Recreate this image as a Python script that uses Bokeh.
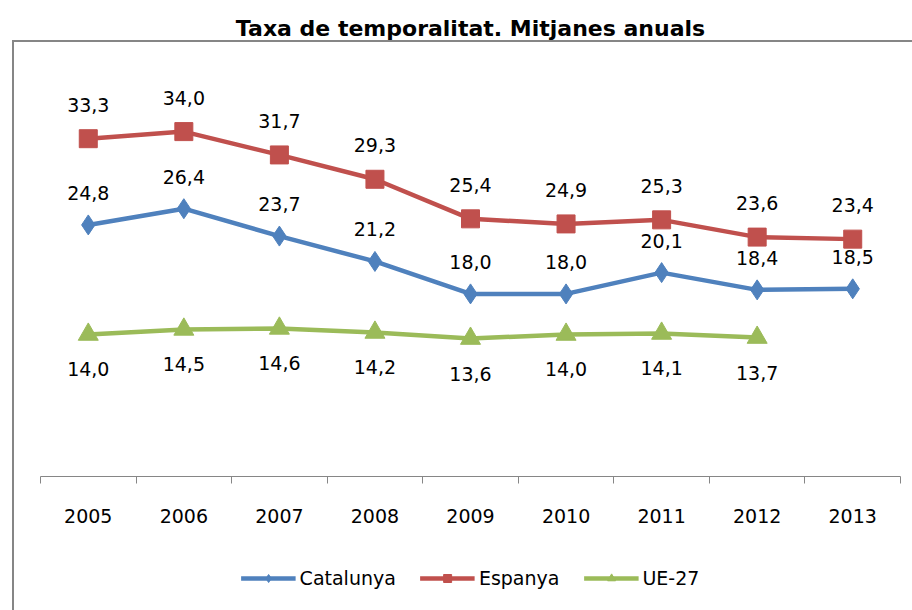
from bokeh.plotting import figure
from bokeh.models import (Range1d, FixedTicker, ColumnDataSource, Legend, LegendItem,
                          LabelSet, InlineStyleSheet)
from bokeh.layouts import column
from bokeh.core.properties import value
from bokeh.embed import file_html
from bokeh.resources import INLINE

years = ["2005", "2006", "2007", "2008", "2009", "2010", "2011", "2012", "2013"]
catalunya = [24.8, 26.4, 23.7, 21.2, 18.0, 18.0, 20.1, 18.4, 18.5]
espanya = [33.3, 34.0, 31.7, 29.3, 25.4, 24.9, 25.3, 23.6, 23.4]
ue27 = [14.0, 14.5, 14.6, 14.2, 13.6, 14.0, 14.1, 13.7]
series_names = ["Catalunya", "Espanya", "UE-27"]

FONT = "DejaVu Sans"
BLUE, RED, GREEN = "#4F81BD", "#C0504D", "#9BBB59"
GRAY = "#868686"

def fmt(v):
    return f"{v:.1f}".replace(".", ",")

def src(vals):
    return ColumnDataSource(dict(x=list(range(len(vals))), y=vals, lab=[fmt(v) for v in vals]))

sources = [src(catalunya), src(espanya), src(ue27)]

p = figure(width=912, height=540, output_backend="svg", toolbar_location=None,
           x_range=Range1d(-0.5, len(years) - 0.5), y_range=Range1d(0, 41.6),
           min_border_left=40, min_border_right=12, min_border_top=54, min_border_bottom=64,
           title="Taxa de temporalitat. Mitjanes anuals")
p.title.text_font = FONT
p.title.text_font_size = "22px"
p.title.text_font_style = "bold"
p.title.align = "center"
p.title.text_color = "#000000"
p.title.standoff = 27

p.outline_line_color = None
p.grid.visible = False
p.yaxis.visible = False

ax = p.xaxis[0]
ax.ticker = FixedTicker(ticks=list(range(len(years))),
                        minor_ticks=[i - 0.5 for i in range(len(years) + 1)])
ax.major_label_overrides = {i: y for i, y in enumerate(years)}
ax.major_tick_line_color = None
ax.major_tick_out = 0
ax.major_tick_in = 0
ax.minor_tick_out = 7
ax.minor_tick_in = 0
ax.minor_tick_line_color = GRAY
ax.axis_line_color = GRAY
ax.axis_line_width = 1
ax.major_label_standoff = 25
ax.major_label_text_font = FONT
ax.major_label_text_font_size = "19px"
ax.major_label_text_color = "#000000"

styles = [dict(color=BLUE, marker="diamond", size=20),
          dict(color=RED, marker="square", size=18),
          dict(color=GREEN, marker="triangle", size=20)]

for s, st in zip(sources, styles):
    p.line("x", "y", source=s, color=st["color"], line_width=4.5)
    p.scatter("x", "y", source=s, marker=st["marker"], size=st["size"], color=st["color"])

for s, off in zip(sources, (32, 34, -35)):
    p.add_layout(LabelSet(x="x", y="y", text="lab", source=s, y_offset=off,
                          text_align="center", text_baseline="middle",
                          text_font=value(FONT), text_font_size="19px", text_color="#000000"))

p.stylesheets = [InlineStyleSheet(css=f"""
:host::after {{
  content: ""; position: absolute;
  left: 12px; top: 40px; right: 0px; bottom: 0px;
  border-top: 2px solid {GRAY}; border-left: 2px solid {GRAY};
  pointer-events: none; z-index: 10;
}}
""")]

# legend strip (its view range lies away from the data, so only the legend shows)
q = figure(width=912, height=70, output_backend="svg", toolbar_location=None,
           x_range=Range1d(-0.5, len(years) - 0.5), y_range=Range1d(-200, -199),
           min_border_left=40, min_border_right=12, min_border_top=6, min_border_bottom=0)
q.outline_line_color = None
q.grid.visible = False
q.axis.visible = False
items = []
for name, s, st in zip(series_names, sources, styles):
    rl = q.line("x", "y", source=s, color=st["color"], line_width=4.5)
    rm = q.scatter("x", "y", source=s, marker=st["marker"], size=st["size"], color=st["color"])
    items.append(LegendItem(label=name, renderers=[rl, rm]))
legend = Legend(items=items, orientation="horizontal", location="center",
                label_text_font=FONT, label_text_font_size="19px", label_text_color="#000000",
                glyph_width=55, glyph_height=20, label_standoff=4, spacing=24,
                border_line_color=None, background_fill_alpha=0, padding=0, margin=0)
q.add_layout(legend, "center")
q.stylesheets = [InlineStyleSheet(css=f"""
:host::after {{
  content: ""; position: absolute;
  left: 12px; top: 0px; bottom: 0px; width: 0px;
  border-left: 2px solid {GRAY};
  pointer-events: none; z-index: 10;
}}
""")]

layout = column(p, q, spacing=0)
open("out.html", "w").write(file_html(layout, INLINE))
